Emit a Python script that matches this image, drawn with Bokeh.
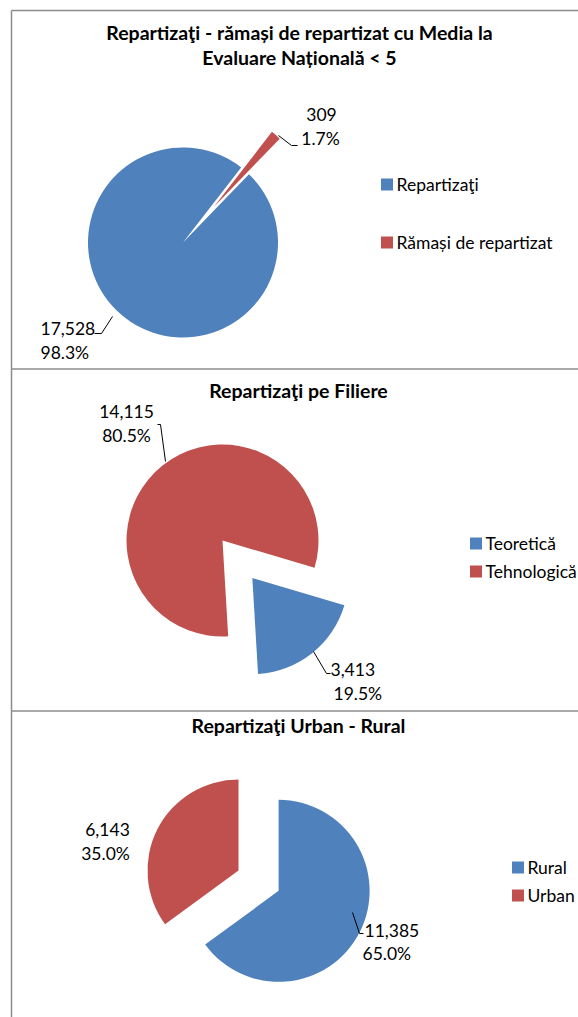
import math
from bokeh.plotting import figure
from bokeh.models import Range1d
from bokeh.core.properties import value
from bokeh.embed import file_html
from bokeh.resources import INLINE

# ---------------- data ----------------
title1_lines = ["Repartizaţi - rămași de repartizat cu Media la", "Evaluare Națională < 5"]
title2 = "Repartizaţi pe Filiere"
title3 = "Repartizaţi Urban - Rural"

c1_categories = ["Repartizaţi", "Rămași de repartizat"]
c1_values = [17528, 309]

c2_categories = ["Teoretică", "Tehnologică"]
c2_values = [3413, 14115]

c3_categories = ["Rural", "Urban"]
c3_values = [11385, 6143]

slice_colors = ["#4F81BD", "#C0504D"]

# ---------------- layout ----------------
W, H = 578, 1017
FONT = "Lato"
LABEL_SIZE = "17.5px"
LEGEND_SIZE = "17.5px"
TITLE_SIZE = "19.5px"
BORDER = "#8C8C8C"


def X(x):
    return x


def Y(y):
    return H - y


p = figure(width=W, height=H, x_range=Range1d(0, W), y_range=Range1d(0, H),
           output_backend="svg", toolbar_location=None,
           x_axis_type=None, y_axis_type=None, min_border=0)
p.grid.visible = False
p.outline_line_color = None
p.background_fill_color = "white"
p.border_fill_color = "white"

# panel borders
p.multi_line(xs=[[11, 11], [11, 900], [11, 900], [11, 900]],
             ys=[[Y(10), Y(1200)], [Y(10), Y(10)], [Y(368.5), Y(368.5)], [Y(710.5), Y(710.5)]],
             line_color=BORDER, line_width=1.5)


def draw_pie(values, cx, cy, r, first_deg, explode):
    total = float(sum(values))
    start = first_deg
    xs, ys, sa, ea = [], [], [], []
    for v, ex in zip(values, explode):
        span = 360.0 * v / total
        e0, e1 = start, start + span
        mid = math.radians((e0 + e1) / 2.0)
        ox = cx + ex * math.sin(mid)
        oy = cy - ex * math.cos(mid)
        xs.append(X(ox))
        ys.append(Y(oy))
        sa.append(math.pi / 2 - math.radians(e1))
        ea.append(math.pi / 2 - math.radians(e0))
        start = e1
    p.wedge(x=xs, y=ys, radius=r, start_angle=sa, end_angle=ea,
            fill_color=slice_colors[:len(values)], line_color=None)


def label_texts(values):
    total = float(sum(values))
    return [(f"{v:,}", f"{100.0 * v / total:.1f}%") for v in values]


def put_text(x, y, txt, align="center", bold=False, size=LABEL_SIZE):
    p.text(x=[X(x)], y=[Y(y)], text=[txt], text_align=align, text_baseline="middle",
           text_font=value(FONT), text_font_size=size,
           text_font_style="bold" if bold else "normal", text_color="black")


def leader(pts):
    p.line(x=[X(a) for a, b in pts], y=[Y(b) for a, b in pts], line_color="black", line_width=1)


def legend(cats, x0, ys):
    for i, (c, yy) in enumerate(zip(cats, ys)):
        p.rect(x=[X(x0 + 6.5)], y=[Y(yy)], width=12, height=12, width_units="screen",
               height_units="screen", fill_color=slice_colors[i], line_color=None)
        put_text(x0 + 16, yy, c, align="left", size=LEGEND_SIZE)


# ---------- panel 1 ----------
put_text(299, 32, title1_lines[0], bold=True, size=TITLE_SIZE)
put_text(299, 57, title1_lines[1], bold=True, size=TITLE_SIZE)
draw_pie(c1_values, 182.5, 242, 95, 44.0, [0, 47])
l1 = label_texts(c1_values)
put_text(40, 328, l1[0][0], align="left")
put_text(40, 352, l1[0][1], align="left")
leader([(94, 333), (101, 333), (112, 316)])
put_text(321, 114, l1[1][0])
put_text(320, 138, l1[1][1])
leader([(278, 135), (291, 145), (297, 145)])
legend(c1_categories, 380, [184, 242])

# ---------- panel 2 ----------
put_text(298, 390, title2, bold=True, size=TITLE_SIZE)
draw_pie(c2_values, 222, 540, 96, 106.5, [48, 0])
l2 = label_texts(c2_values)
put_text(126, 411, l2[1][0])
put_text(126, 435, l2[1][1])
leader([(157, 424), (160, 424), (165, 461)])
put_text(330, 669, l2[0][0], align="left")
put_text(333, 693, l2[0][1], align="left")
leader([(313, 651), (326, 673), (330, 673)])
legend(c2_categories, 469, [543, 571])

# ---------- panel 3 ----------
put_text(298, 725, title3, bold=True, size=TITLE_SIZE)
draw_pie(c3_values, 238, 870, 91, 0.0, [45, 0])
l3 = label_texts(c3_values)
put_text(107, 829, l3[1][0])
put_text(105, 853, l3[1][1])
put_text(364, 930, l3[0][0], align="left")
put_text(362, 953, l3[0][1], align="left")
leader([(352, 912), (359, 933), (363, 933)])
legend(c3_categories, 511, [867, 895])

open("out.html", "w").write(file_html(p, INLINE))
